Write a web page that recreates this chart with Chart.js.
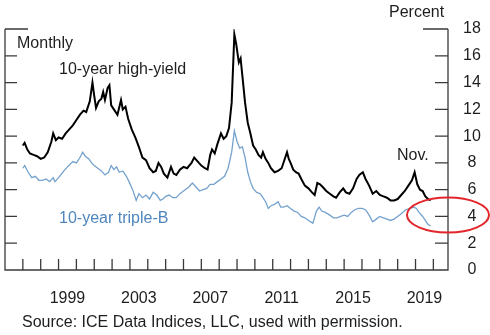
<!DOCTYPE html>
<html>
<head>
<meta charset="utf-8">
<script src="https://cdn.jsdelivr.net/npm/chart.js@4"></script>
<style>
  body { margin: 0; background: #fff; }
  #wrap { width: 490px; height: 335px; }
</style>
</head>
<body>
<div id="wrap"><canvas id="spreads" width="490" height="335"></canvas></div>
<script>
// 10-year high-yield, monthly (decimal years)
var hyDates = [1997.0,1997.1,1997.25,1997.4,1997.6,1997.8,1998.0,1998.2,1998.4,1998.6,1998.7,1998.85,
  1999.0,1999.2,1999.4,1999.6,1999.8,2000.0,2000.2,2000.4,2000.55,2000.75,2000.9,2001.0,2001.1,2001.25,
  2001.4,2001.5,2001.6,2001.75,2001.85,2001.95,2002.1,2002.3,2002.5,2002.6,2002.75,2002.9,2003.1,2003.3,
  2003.5,2003.7,2003.9,2004.1,2004.3,2004.45,2004.6,2004.75,2004.9,2005.1,2005.3,2005.45,2005.6,2005.8,
  2006.0,2006.2,2006.45,2006.6,2006.8,2007.0,2007.2,2007.35,2007.5,2007.6,2007.75,2007.9,2008.1,2008.25,
  2008.4,2008.55,2008.7,2008.85,2008.95,2009.1,2009.2,2009.3,2009.45,2009.6,2009.75,2009.9,2010.05,2010.2,
  2010.35,2010.45,2010.6,2010.75,2010.9,2011.1,2011.3,2011.5,2011.65,2011.8,2011.9,2012.0,2012.15,2012.3,
  2012.45,2012.6,2012.8,2013.0,2013.2,2013.35,2013.5,2013.65,2013.8,2014.0,2014.2,2014.4,2014.55,2014.75,
  2014.95,2015.1,2015.3,2015.5,2015.7,2015.85,2016.05,2016.2,2016.4,2016.6,2016.8,2017.0,2017.2,2017.4,
  2017.6,2017.8,2018.0,2018.2,2018.4,2018.6,2018.8,2018.95,2019.1,2019.25,2019.4,2019.55,2019.7,2019.85];
var hyValues = [9.3,9.5,9.0,8.7,8.6,8.5,8.3,8.4,8.8,9.6,10.2,9.7,
  9.9,9.8,10.2,10.5,10.8,11.2,11.6,11.9,11.8,12.6,14.0,13.0,12.1,12.6,
  12.8,13.3,12.7,13.6,13.8,12.3,12.0,11.6,12.7,12.0,12.2,11.3,10.5,9.9,
  9.2,8.4,8.2,7.6,7.3,7.4,8.0,7.7,7.2,6.9,7.7,7.2,7.1,7.5,
  7.7,7.6,8.0,8.4,8.1,7.8,7.6,7.5,8.6,9.0,8.7,9.4,10.2,9.8,
  10.0,10.6,12.5,17.6,16.9,15.5,15.8,14.5,12.5,11.0,10.2,9.3,9.0,8.6,
  8.4,8.8,8.3,8.0,7.6,7.3,7.4,7.6,8.2,8.8,8.3,8.0,7.5,7.3,
  7.2,6.8,6.3,6.1,5.8,5.6,6.5,6.4,6.2,5.9,5.7,5.5,5.4,5.8,
  6.1,5.8,5.7,6.1,6.8,7.1,7.3,6.8,6.3,5.7,5.9,5.6,5.5,5.4,
  5.2,5.2,5.3,5.6,5.9,6.3,6.7,7.3,6.4,6.0,5.9,5.5,5.3,5.2];

// 10-year triple-B
var bbbDates = [1997.0,1997.1,1997.3,1997.5,1997.7,1997.9,1998.1,1998.3,1998.5,1998.7,1998.8,
  1999.0,1999.3,1999.5,1999.8,2000.0,2000.2,2000.35,2000.5,2000.7,2000.85,2001.0,2001.2,2001.4,2001.6,
  2001.8,2001.95,2002.1,2002.25,2002.4,2002.6,2002.8,2002.95,2003.15,2003.35,2003.5,2003.7,2003.9,2004.1,
  2004.3,2004.5,2004.7,2004.85,2005.0,2005.2,2005.4,2005.6,2005.8,2006.0,2006.3,2006.5,2006.7,2006.9,
  2007.1,2007.3,2007.5,2007.7,2007.9,2008.1,2008.3,2008.5,2008.7,2008.85,2009.0,2009.15,2009.3,2009.45,
  2009.6,2009.75,2009.9,2010.1,2010.3,2010.45,2010.6,2010.75,2010.9,2011.1,2011.3,2011.45,2011.6,2011.8,
  2012.0,2012.2,2012.4,2012.6,2012.8,2013.0,2013.25,2013.45,2013.6,2013.75,2013.95,2014.2,2014.4,2014.6,
  2014.8,2015.0,2015.2,2015.4,2015.6,2015.8,2016.0,2016.2,2016.4,2016.6,2016.8,2017.0,2017.2,2017.4,
  2017.6,2017.8,2018.0,2018.2,2018.45,2018.7,2018.9,2019.05,2019.2,2019.4,2019.55,2019.7,2019.85];
var bbbValues = [7.6,7.8,7.3,6.9,7.0,6.7,6.7,6.8,6.6,6.9,6.6,
  6.9,7.4,7.7,8.1,8.0,8.4,8.8,8.5,8.3,8.0,7.8,7.6,7.4,7.1,
  7.3,7.8,7.5,7.7,7.3,7.4,7.0,6.6,6.0,5.2,5.7,5.4,5.6,5.3,
  5.8,5.6,5.2,5.3,5.5,5.6,5.4,5.4,5.7,5.9,6.2,6.5,6.2,5.9,
  6.0,6.1,6.4,6.4,6.6,6.8,7.0,7.6,8.8,10.4,9.6,9.1,9.2,8.4,
  7.3,6.6,6.1,5.8,5.7,5.4,5.1,4.6,4.8,4.9,5.1,4.7,4.7,4.8,
  4.6,4.4,4.3,4.0,3.9,3.7,3.5,4.4,4.7,4.4,4.3,4.1,3.9,3.9,
  4.0,4.1,4.0,4.3,4.5,4.6,4.6,4.5,4.1,3.6,3.8,4.0,3.9,3.8,
  3.7,3.8,4.0,4.2,4.5,4.6,4.7,4.6,4.3,4.0,3.7,3.4,3.3];

var labelYears = [1999, 2003, 2007, 2011, 2015, 2019];
var firstYear = 1996, lastYear = 2020;

function pts(xs, ys) {
  return xs.map(function(x, i) { return { x: x, y: ys[i] }; });
}

var txt = '#1e1e1e';
var fnt = '16px "Liberation Sans", Arial, sans-serif';

var framePlugin = {
  id: 'frame',
  afterDraw: function(chart) {
    var c = chart.ctx, a = chart.chartArea;
    var xs = chart.scales.x, ys = chart.scales.y;
    var top = ys.getPixelForValue(18), bot = ys.getPixelForValue(0);
    c.save();
    c.strokeStyle = '#3a3a3a';
    c.lineWidth = 1.3;
    c.beginPath();
    c.moveTo(a.left, top); c.lineTo(a.left, bot); c.lineTo(a.right, bot); c.lineTo(a.right, top);
    for (var v = 2; v <= 18; v += 2) {
      var y = ys.getPixelForValue(v);
      var ll = v === 18 ? 23 : 12, rl = v === 18 ? 25 : 13;
      c.moveTo(a.left, y); c.lineTo(a.left + ll, y);
      c.moveTo(a.right, y); c.lineTo(a.right - rl, y);
    }
    for (var yr = firstYear + 1; yr <= lastYear; yr++) {
      var x = xs.getPixelForValue(yr);
      c.moveTo(x, bot); c.lineTo(x, bot - 11);
    }
    c.stroke();

    c.font = fnt;
    c.textBaseline = 'middle';
    c.textAlign = 'left';
    c.fillStyle = txt;
    c.fillText('Percent', 389, 13);
    c.fillText('Monthly', 17, 44);
    c.fillText('10-year high-yield', 59, 70);
    c.fillText('Nov.', 397, 156);
    c.fillText('Source: ICE Data Indices, LLC, used with permission.', 22, 323);
    c.fillStyle = '#4f86bd';
    c.fillText('10-year triple-B', 59, 219);

    c.strokeStyle = '#e3262b';
    c.lineWidth = 2;
    c.beginPath();
    c.ellipse(448, 215, 41, 17.5, 0, 0, Math.PI * 2);
    c.stroke();
    c.restore();
  }
};

new Chart(document.getElementById('spreads'), {
  type: 'line',
  data: {
    datasets: [{
      label: '10-year triple-B',
      data: pts(bbbDates, bbbValues),
      borderColor: '#75a2cd',
      borderWidth: 1.3,
      pointRadius: 0,
      tension: 0
    }, {
      label: '10-year high-yield',
      data: pts(hyDates, hyValues),
      borderColor: '#000',
      borderWidth: 2,
      pointRadius: 0,
      tension: 0
    }]
  },
  options: {
    responsive: false,
    animation: false,
    layout: { padding: { left: 5, top: 29, right: 0, bottom: 0 } },
    plugins: { legend: { display: false }, tooltip: { enabled: false } },
    scales: {
      x: {
        type: 'linear',
        min: firstYear,
        max: 2020.82,
        grid: { display: false, drawTicks: false },
        border: { display: false },
        afterFit: function(s) { s.height = 65; },
        afterBuildTicks: function(s) {
          s.ticks = labelYears.map(function(y) { return { value: y + 0.5 }; });
        },
        ticks: {
          autoSkip: false,
          maxRotation: 0,
          padding: 19,
          color: txt,
          font: { family: '"Liberation Sans", Arial, sans-serif', size: 16 },
          callback: function(v) { return String(Math.floor(v)); }
        }
      },
      y: {
        position: 'right',
        min: 0,
        max: 18,
        grid: { display: false, drawTicks: false },
        border: { display: false },
        afterFit: function(s) { s.width = 42; },
        ticks: {
          stepSize: 2,
          padding: 15,
          crossAlign: 'center',
          color: txt,
          font: { family: '"Liberation Sans", Arial, sans-serif', size: 16 }
        }
      }
    }
  },
  plugins: [framePlugin]
});
</script>
</body>
</html>
